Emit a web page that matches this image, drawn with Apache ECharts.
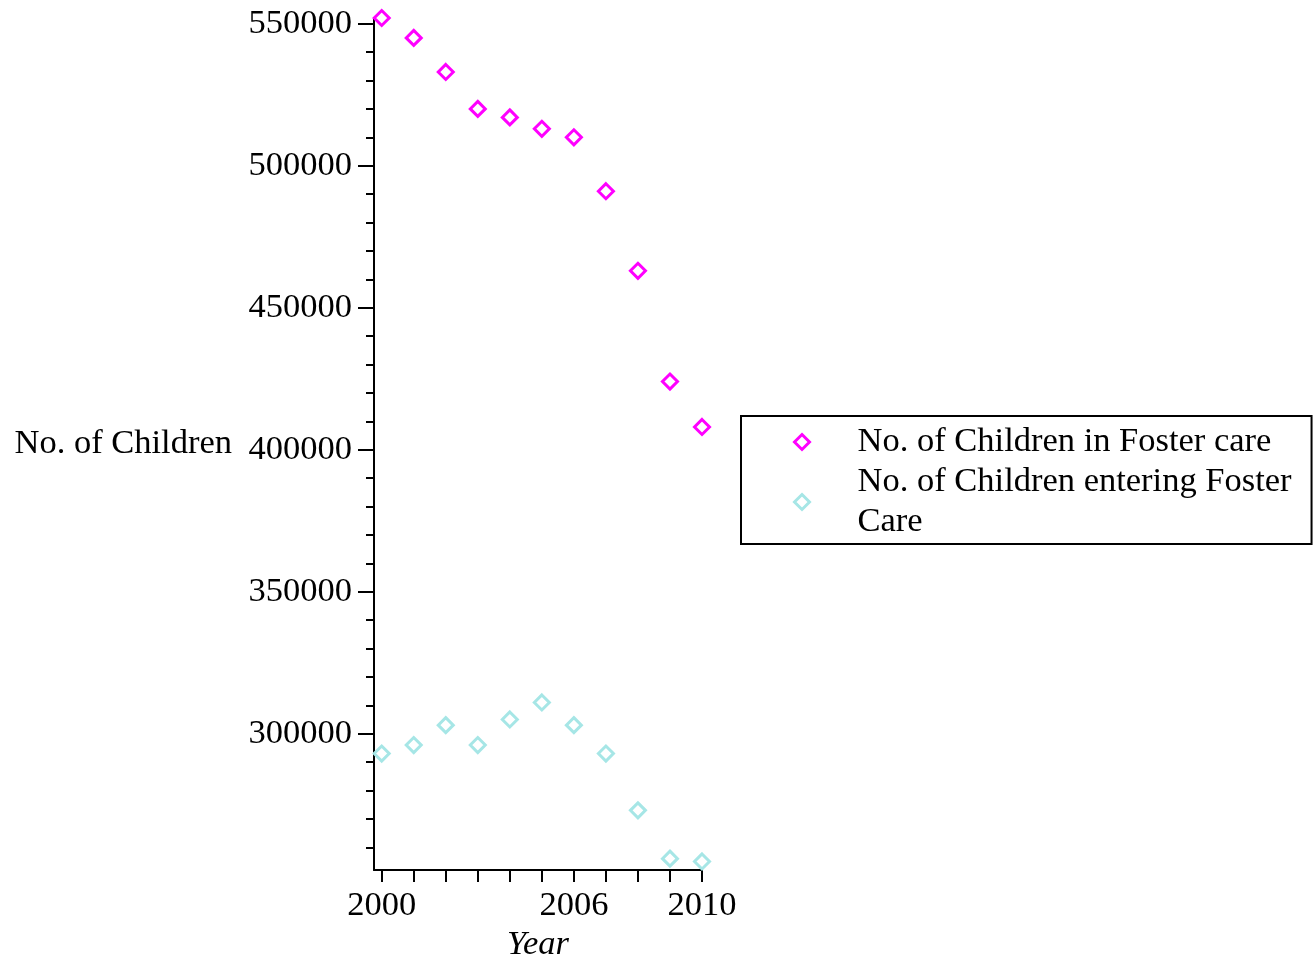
<!DOCTYPE html>
<html>
<head>
<meta charset="utf-8">
<script src="https://cdn.jsdelivr.net/npm/echarts@6/dist/echarts.min.js"></script>
<style>
html,body{margin:0;padding:0;background:#fff;}
#chart{width:1314px;height:959px;}
</style>
</head>
<body>
<div id="chart"></div>
<script>
const years = [2000, 2001, 2002, 2003, 2004, 2005, 2006, 2007, 2008, 2009, 2010];
const inFosterCare = [552000, 545000, 533000, 520000, 517000, 513000, 510000, 491000, 463000, 424000, 408000];
const enteringFosterCare = [293000, 296000, 303000, 296000, 305000, 311000, 303000, 293000, 273000, 256000, 255000];
const xTickValues = [2000, 2001, 2002, 2003, 2004, 2005, 2006, 2007, 2008, 2009, 2010];
const xLabelValues = [2000, 2006, 2010];
const yMajorValues = [300000, 350000, 400000, 450000, 500000, 550000];
const yMinorValues = [];
for (let v = 260000; v <= 550000; v += 10000) yMinorValues.push(v);
const seriesNames = ['No. of Children in Foster care', 'No. of Children entering Foster Care'];
const seriesColors = ['#ff00ff', '#a6e6e6'];

const FONT = '"Liberation Serif", "Times New Roman", serif';
const FS = 34.5;
const chart = echarts.init(document.getElementById('chart'));

const yBase = {
  type: 'value', min: 252000, max: 552000, position: 'left',
  splitLine: { show: false }
};

chart.setOption({
  animation: false,
  backgroundColor: '#fff',
  grid: { left: 374, top: 18, right: 612, bottom: 89, containLabel: false, outerBoundsMode: 'none' },
  legend: {
    orient: 'vertical',
    left: 741, top: 416,
    padding: [6, 20, 2, 52],
    itemGap: 0,
    itemWidth: 15, itemHeight: 15,
    borderColor: '#000', borderWidth: 2,
    textStyle: { fontFamily: FONT, fontSize: FS, color: '#000', lineHeight: 40, padding: [0, 0, 0, 43] },
    formatter: function (name) {
      return name === seriesNames[1] ? 'No. of Children entering Foster\nCare' : name;
    },
    data: seriesNames.map((n, i) => ({
      name: n, icon: 'diamond',
      itemStyle: { color: '#fff', borderColor: seriesColors[i], borderWidth: 3 }
    }))
  },
  xAxis: {
    type: 'value', min: 1999.76, max: 2010,
    name: 'Year', nameLocation: 'middle', nameGap: 56,
    nameTextStyle: { fontFamily: FONT, fontSize: FS, fontStyle: 'italic', color: '#000' },
    axisLine: { show: true, onZero: false, lineStyle: { color: '#000', width: 2 } },
    axisTick: { show: true, length: 12, customValues: xTickValues, lineStyle: { color: '#000', width: 2 } },
    axisLabel: { customValues: xLabelValues, margin: 18, fontFamily: FONT, fontSize: FS, color: '#000',
      formatter: v => String(v) },
    splitLine: { show: false }
  },
  yAxis: [
    Object.assign({}, yBase, {
      name: 'No. of Children', nameLocation: 'middle', nameRotate: 0, nameGap: 142,
      nameTextStyle: { fontFamily: FONT, fontSize: FS, color: '#000', align: 'right' },
      axisLine: { show: true, onZero: false, lineStyle: { color: '#000', width: 2 } },
      axisTick: { show: true, length: 16, customValues: yMajorValues, lineStyle: { color: '#000', width: 2 } },
      axisLabel: { customValues: yMajorValues, margin: 22, fontFamily: FONT, fontSize: FS, color: '#000',
        formatter: v => String(v) }
    }),
    Object.assign({}, yBase, {
      axisLine: { show: false },
      axisTick: { show: true, length: 8, customValues: yMinorValues, lineStyle: { color: '#000', width: 2 } },
      axisLabel: { show: false }
    })
  ],
  series: [
    {
      name: seriesNames[0], type: 'scatter', symbol: 'diamond', symbolSize: 15,
      itemStyle: { color: '#fff', borderColor: seriesColors[0], borderWidth: 3, opacity: 1 },
      data: years.map((y, i) => [y, inFosterCare[i]])
    },
    {
      name: seriesNames[1], type: 'scatter', symbol: 'diamond', symbolSize: 15,
      itemStyle: { color: '#fff', borderColor: seriesColors[1], borderWidth: 3, opacity: 1 },
      data: years.map((y, i) => [y, enteringFosterCare[i]])
    }
  ]
});
</script>
</body>
</html>
